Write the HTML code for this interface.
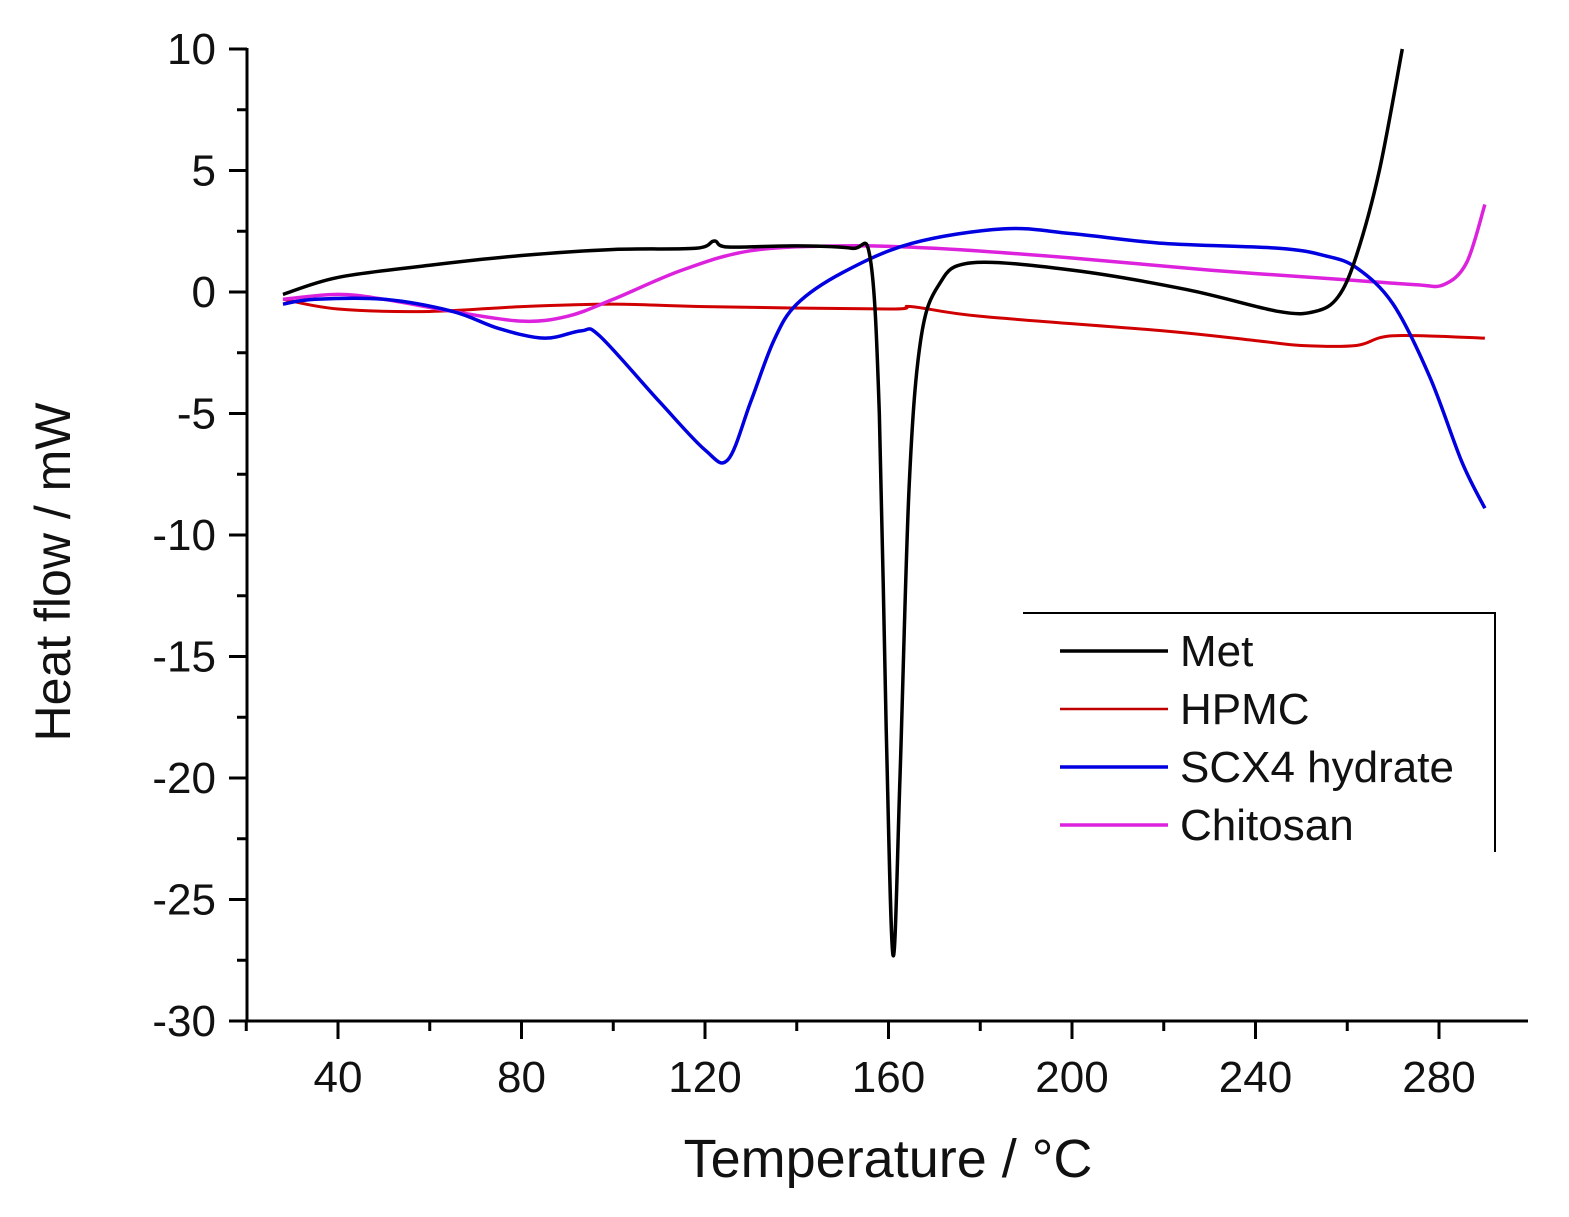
<!DOCTYPE html>
<html><head><meta charset="utf-8"><style>
html,body{margin:0;padding:0;background:#fff;}
svg{display:block;font-family:"Liberation Sans",Arial,sans-serif;}
</style></head><body>
<svg id="s" width="1569" height="1217" viewBox="0 0 1569 1217" xmlns="http://www.w3.org/2000/svg">
<g stroke="#000" stroke-width="3" fill="none">
<line x1="247" y1="48" x2="247" y2="1021"/>
<line x1="245" y1="1021" x2="1528" y2="1021"/>
</g>
<g id="ticks" stroke="#000" stroke-width="3"></g>
<g font-size="44" fill="#111" text-anchor="end" id="ylab"></g>
<g font-size="44" fill="#111" text-anchor="middle" id="xlab"></g>
<text x="888" y="1177" font-size="54" text-anchor="middle" fill="#111">Temperature / °C</text>
<text transform="translate(70,572) rotate(-90)" font-size="50" text-anchor="middle" fill="#111">Heat flow / mW</text>
<g id="curves" fill="none" stroke-width="3.5" stroke-linejoin="round"></g>
<g stroke="#000" stroke-width="2" fill="none">
<polyline points="1023,613 1495,613 1495,852"/>
</g>
<g stroke-width="3.5">
<line x1="1060" y1="651" x2="1168" y2="651" stroke="#000"/>
<line x1="1060" y1="709" x2="1168" y2="709" stroke="#c00000" stroke-width="2.5"/>
<line x1="1060" y1="767" x2="1168" y2="767" stroke="#0000e0"/>
<line x1="1060" y1="825" x2="1168" y2="825" stroke="#dd22dd"/>
</g>
<g font-size="44" fill="#111">
<text x="1180" y="666">Met</text>
<text x="1180" y="724">HPMC</text>
<text x="1180" y="782">SCX4 hydrate</text>
<text x="1180" y="840">Chitosan</text>
</g>
</svg>
<script>
var X=function(t){return 338+(t-40)*4.5875}, Y=function(v){return 292-v*24.3};
var ns="http://www.w3.org/2000/svg";
var tk=document.getElementById("ticks"),yl=document.getElementById("ylab"),xl=document.getElementById("xlab");
function L(g,a,b,c,d){var l=document.createElementNS(ns,"line");l.setAttribute("x1",a);l.setAttribute("y1",b);l.setAttribute("x2",c);l.setAttribute("y2",d);g.appendChild(l);}
function T(g,x,y,s){var t=document.createElementNS(ns,"text");t.setAttribute("x",x);t.setAttribute("y",y);t.textContent=s;g.appendChild(t);}
for(var v=10;v>=-30;v-=2.5){var y=Y(v);var maj=(v%5==0);L(tk,maj?229:237,y,247,y);if(maj)T(yl,216,y+15,v);}
for(var t=20;t<=299;t+=20){var x=X(t);var maj=(t%40==0);L(tk,x,1021,x,maj?1039:1031);if(maj&&t>=40)T(xl,x,1092,t);}
function curve(pts,col,w){var p=pts.map(function(q){return [X(q[0]),Y(q[1])]});var d="M"+p[0][0]+","+p[0][1];
for(var i=0;i<p.length-1;i++){var p0=p[Math.max(i-1,0)],p1=p[i],p2=p[i+1],p3=p[Math.min(i+2,p.length-1)];
d+=" C"+(p1[0]+(p2[0]-p0[0])/6)+","+(p1[1]+(p2[1]-p0[1])/6)+" "+(p2[0]-(p3[0]-p1[0])/6)+","+(p2[1]-(p3[1]-p1[1])/6)+" "+p2[0]+","+p2[1];}
var e=document.createElementNS(ns,"path");e.setAttribute("d",d);e.setAttribute("stroke",col);if(w)e.setAttribute("stroke-width",w);document.getElementById("curves").appendChild(e);}
curve([[28,-0.3],[40,-0.7],[60,-0.8],[80,-0.6],[100,-0.5],[120,-0.6],[160,-0.7],[165,-0.6],[180,-1],[220,-1.6],[240,-2],[250,-2.2],[262,-2.2],[270,-1.8],[290,-1.9]],"#d00000",3);
curve([[28,-0.3],[40,-0.1],[50,-0.3],[65,-0.8],[80,-1.2],[90,-1.0],[100,-0.3],[115,0.9],[130,1.7],[150,1.9],[170,1.8],[200,1.4],[230,0.9],[260,0.5],[275,0.3],[281,0.3],[286,1.2],[290,3.6]],"#dd22dd");
curve([[28,-0.5],[35,-0.3],[50,-0.3],[65,-0.8],[75,-1.5],[85,-1.9],[93,-1.6],[97,-1.8],[110,-4.5],[120,-6.5],[125,-6.9],[130,-4.5],[135,-2],[140,-0.5],[150,0.8],[165,2],[185,2.6],[200,2.4],[220,2.0],[245,1.8],[255,1.5],[262,1.0],[270,-0.5],[278,-3.5],[285,-7],[290,-8.9]],"#0000e0");
curve([[28,-0.1],[40,0.6],[60,1.1],[80,1.5],[100,1.75],[118,1.8],[122,2.1],[125,1.85],[140,1.9],[152,1.8],[156,1.4],[158,-5],[159.5,-18],[161,-27.3],[162.5,-20],[164.5,-8],[167,-2],[171,0.3],[178,1.2],[200,0.9],[225,0.1],[245,-0.8],[253,-0.8],[258,-0.2],[262,1.5],[267,5],[272,10]],"#000");
</script>
</body></html>
